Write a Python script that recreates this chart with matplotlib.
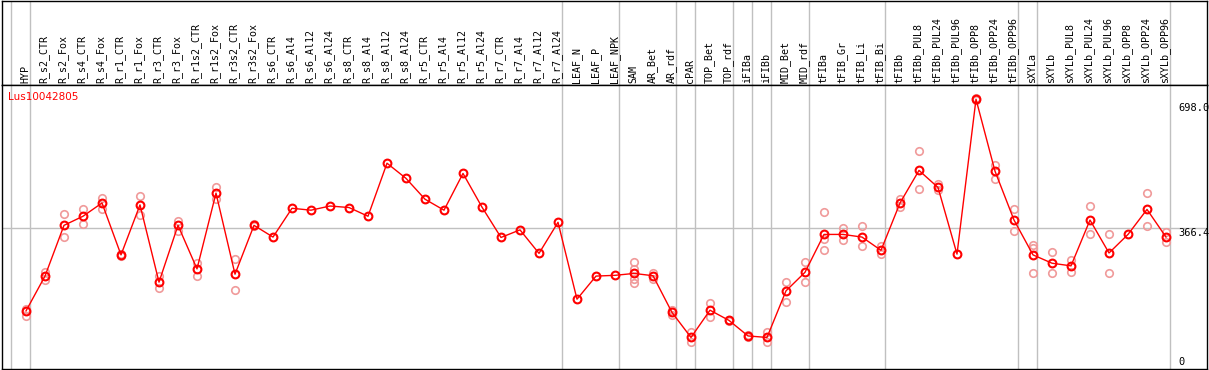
import matplotlib
matplotlib.use("Agg")
import matplotlib.pyplot as plt

title = "Lus10042805"
samples = ["HYP", "R_s2_CTR", "R_s2_Fox", "R_s4_CTR", "R_s4_Fox", "R_r1_CTR", "R_r1_Fox",
           "R_r3_CTR", "R_r3_Fox", "R_r1s2_CTR", "R_r1s2_Fox", "R_r3s2_CTR", "R_r3s2_Fox",
           "R_s6_CTR", "R_s6_Al4", "R_s6_Al12", "R_s6_Al24", "R_s8_CTR", "R_s8_Al4",
           "R_s8_Al12", "R_s8_Al24", "R_r5_CTR", "R_r5_Al4", "R_r5_Al12", "R_r5_Al24",
           "R_r7_CTR", "R_r7_Al4", "R_r7_Al12", "R_r7_Al24", "LEAF_N", "LEAF_P", "LEAF_NPK",
           "SAM", "AR_Bet", "AR_rdf", "cPAR", "TOP_Bet", "TOP_rdf", "iFIBa", "iFIBb",
           "MID_Bet", "MID_rdf", "tFIBa", "tFIB_Gr", "tFIB_Li", "tFIB_Bi", "tFIBb",
           "tFIBb_PUL8", "tFIBb_PUL24", "tFIBb_PUL96", "tFIBb_OPP8", "tFIBb_OPP24",
           "tFIBb_OPP96", "sXYLa", "sXYLb", "sXYLb_PUL8", "sXYLb_PUL24", "sXYLb_PUL96",
           "sXYLb_OPP8", "sXYLb_OPP24", "sXYLb_OPP96"]

means = [148, 240, 374, 398, 433, 296, 428, 224, 374, 259,
         459, 245, 374, 343, 419, 414, 425, 421, 398, 538,
         498, 443, 414, 511, 422, 342, 362, 300, 382, 179,
         240, 242, 247, 241, 144, 78, 150, 123, 82, 78,
         201, 250, 350, 350, 343, 308, 433, 519, 474, 298,
         707, 517, 388, 296, 274, 267, 388, 301, 350, 416, 343]

replicates = [[154, 135], [251, 230], [403, 342], [417, 378], [446, 418], [298, 294],
              [451, 401], [239, 209], [386, 359], [275, 239], [476, 444], [284, 202],
              [378, 371], [], [], [], [], [], [], [], [], [], [], [], [], [], [], [], [],
              [], [], [], [276, 259, 232, 222], [247, 232], [150, 137], [92, 66],
              [169, 133], [125, 121], [84, 80], [92, 66], [225, 171], [277, 224],
              [408, 337, 308], [366, 334], [372, 320], [320, 298], [443, 422], [569, 469],
              [483, 467], [], [709, 705], [534, 496], [417, 359], [323, 313, 248],
              [303, 248], [282, 250], [425, 351], [351, 248], [], [459, 371], [357, 329]]

# group separators (drawn just after these sample indices)
group_ends = [-1, 0, 28, 31, 34, 35, 37, 38, 39, 41, 45, 52, 53, 60]
y_marks = [698.0, 366.4]
y_labels = ["698.0", "366.4"]

W, H = 1209, 370
fig = plt.figure(figsize=(W / 100, H / 100), dpi=100)

left_px, right_px = 1.5, 1207
head_top, head_bot, plot_bot = 0.5, 85.3, 368.7
ax_h = fig.add_axes([left_px / W, (H - head_bot) / H, (right_px - left_px) / W, (head_bot - head_top) / H])
ax = fig.add_axes([left_px / W, (H - plot_bot) / H, (right_px - left_px) / W, (plot_bot - head_bot) / H])

x0px, step = 26, 19
xlim = ((left_px - x0px) / step, (right_px - x0px) / step)
for a in (ax, ax_h):
    a.set_xlim(*xlim)
    a.set_xticks([])
    a.set_yticks([])
    for s in a.spines.values():
        s.set_color("black")
        s.set_linewidth(1)
    for g in group_ends:
        a.axvline(g + 0.21, color="#c0c0c0", lw=1, zorder=0)

ax_h.set_ylim(0, 1)
for i, s in enumerate(samples):
    ax_h.text(i - 0.05, 0.025, s, rotation=90, ha="center", va="bottom",
              family="DejaVu Sans Mono", fontsize=7.2, color="black")

ax.set_ylim(-4.5, 743.7)
ax.axhline(y_marks[1], color="#c0c0c0", lw=1, zorder=0)

xs = list(range(len(samples)))
for i, reps in enumerate(replicates):
    if reps:
        ax.plot([i] * len(reps), reps, linestyle="none", marker="o", ms=5.4,
                mfc="none", mec="#f09a9a", mew=1.2, zorder=2)
ax.plot(xs, means, color="#ff0000", lw=1, zorder=3)
ax.plot(xs, means, linestyle="none", marker="o", ms=5.6, mfc="none",
        mec="#ff0000", mew=1.5, zorder=4)

lab_x = (1178 - x0px) / step
for v, l in zip(y_marks, y_labels):
    ax.text(lab_x, v, l, ha="left", va="top", family="DejaVu Sans Mono",
            fontsize=7.5, color="black", clip_on=False)
ax.text(lab_x, 0, "0", ha="left", va="bottom", family="DejaVu Sans Mono",
        fontsize=7.5, color="black")

fig.text(8 / W, 1 - 97 / H, title, ha="left", va="center", color="#ff0000",
         family="DejaVu Sans", fontsize=7.5)

fig.savefig("out.png", dpi=100)
